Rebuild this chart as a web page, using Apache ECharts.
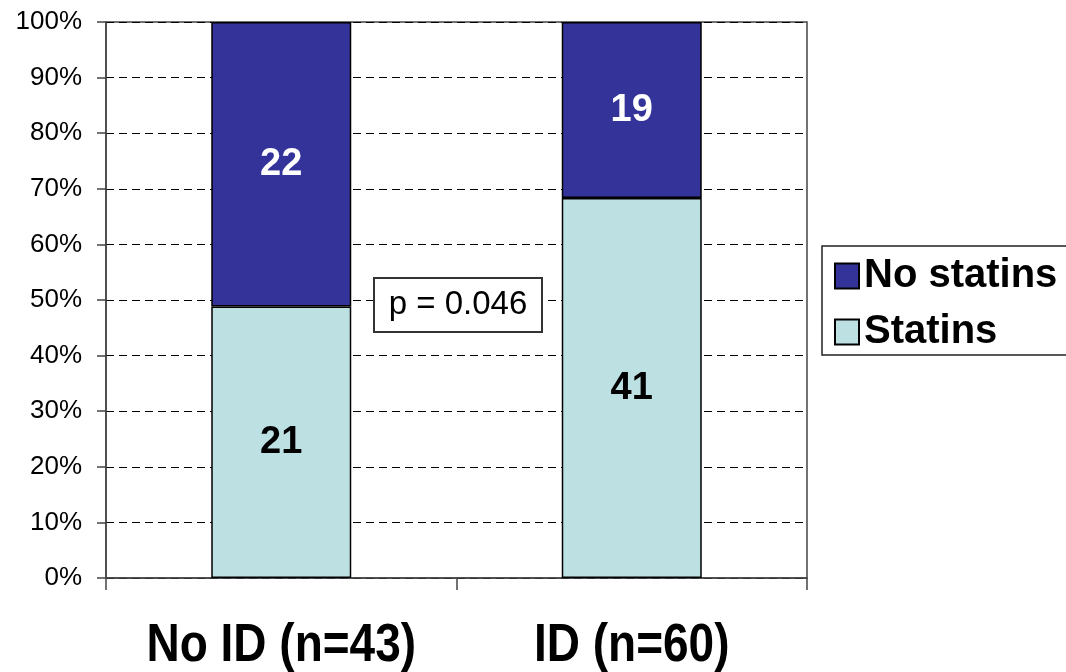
<!DOCTYPE html>
<html>
<head>
<meta charset="utf-8">
<script src="https://cdn.jsdelivr.net/npm/echarts@6/dist/echarts.min.js"></script>
<style>
  html, body { margin: 0; padding: 0; background: #fff; }
  #chart { width: 1066px; height: 672px; }
</style>
</head>
<body>
<div id="chart"></div>
<script>
// Groups on the x axis
const categories = ['No ID (n=43)', 'ID (n=60)'];
// Patient counts per group
const statinsCounts = [21, 41];
const noStatinsCounts = [22, 19];
// Series names, in legend order
const seriesNames = ['No statins', 'Statins'];
// Annotation text
const pValueText = 'p = 0.046';

const totals = categories.map((_, i) => statinsCounts[i] + noStatinsCounts[i]);
const toPercent = counts => counts.map((c, i) => c / totals[i] * 100);

const FONT = '"Liberation Sans", Arial, sans-serif';

const chart = echarts.init(document.getElementById('chart'), null, { renderer: 'canvas' });

function labelFor(counts, color) {
  return {
    show: true,
    position: 'inside',
    formatter: p => String(counts[p.dataIndex]),
    color: color,
    fontFamily: FONT,
    fontWeight: 'bold',
    fontSize: 38
  };
}

chart.setOption({
  animation: false,
  backgroundColor: '#ffffff',
  grid: {
    left: 106, right: 259, top: 22, bottom: 94,
    show: true, borderColor: '#444444', borderWidth: 1.5, backgroundColor: 'transparent'
  },
  legend: {
    data: seriesNames,
    orient: 'vertical',
    left: 822, top: 246,
    padding: [8, 30, 1, 12],
    itemGap: 12,
    itemWidth: 24, itemHeight: 25,
    itemTextGap: 10,
    icon: 'rect',
    backgroundColor: '#ffffff',
    borderColor: '#222222',
    borderWidth: 1.5,
    borderRadius: 0,
    textStyle: { fontFamily: FONT, fontWeight: 'bold', fontSize: 40, color: '#000', lineHeight: 44 }
  },
  xAxis: {
    type: 'category',
    data: categories,
    axisLine: { show: true, lineStyle: { color: '#444444', width: 1.5 } },
    axisTick: { show: true, length: 12, lineStyle: { color: '#444444', width: 1.5 } },
    // category names are drawn below as taller graphic text
    axisLabel: { show: false },
    splitLine: { show: false }
  },
  yAxis: {
    type: 'value',
    min: 0, max: 100, interval: 10,
    axisLine: { show: true, lineStyle: { color: '#444444', width: 1.5 } },
    axisTick: { show: true, length: 9, lineStyle: { color: '#444444', width: 1.5 } },
    axisLabel: {
      formatter: '{value}%', margin: 24, color: '#000', fontFamily: FONT, fontSize: 26
    },
    splitLine: { show: true, lineStyle: { color: '#000', width: 1, type: [8, 5] } }
  },
  series: [
    {
      name: 'Statins',
      type: 'bar',
      stack: 'total',
      barWidth: 140,
      data: toPercent(statinsCounts),
      itemStyle: { color: '#bde0e3', borderColor: '#000', borderWidth: 1.5 },
      label: labelFor(statinsCounts, '#000')
    },
    {
      name: 'No statins',
      type: 'bar',
      stack: 'total',
      barWidth: 140,
      data: toPercent(noStatinsCounts),
      itemStyle: { color: '#333399', borderColor: '#000', borderWidth: 1.5 },
      label: labelFor(noStatinsCounts, '#ffffff')
    }
  ]
});

// Category names placed at each category's pixel centre, stretched vertically
const baseY = chart.convertToPixel({ yAxisIndex: 0 }, 0);
const categoryTexts = categories.map(name => ({
  type: 'text',
  x: chart.convertToPixel({ xAxisIndex: 0 }, name),
  y: baseY + 68,
  scaleY: 1.15,
  style: {
    text: name, fill: '#000', font: 'bold 46px ' + FONT,
    align: 'center', verticalAlign: 'middle'
  }
}));

chart.setOption({
  graphic: [
    ...categoryTexts,
    {
      type: 'group',
      left: 373, top: 277,
      children: [
        {
          type: 'rect',
          shape: { x: 0, y: 0, width: 168, height: 54 },
          style: { fill: '#ffffff', stroke: '#333333', lineWidth: 2 }
        },
        {
          type: 'text',
          x: 84, y: 27,
          style: {
            text: pValueText, fill: '#000', font: '33px ' + FONT,
            align: 'center', verticalAlign: 'middle'
          }
        }
      ]
    }
  ]
});
</script>
</body>
</html>
